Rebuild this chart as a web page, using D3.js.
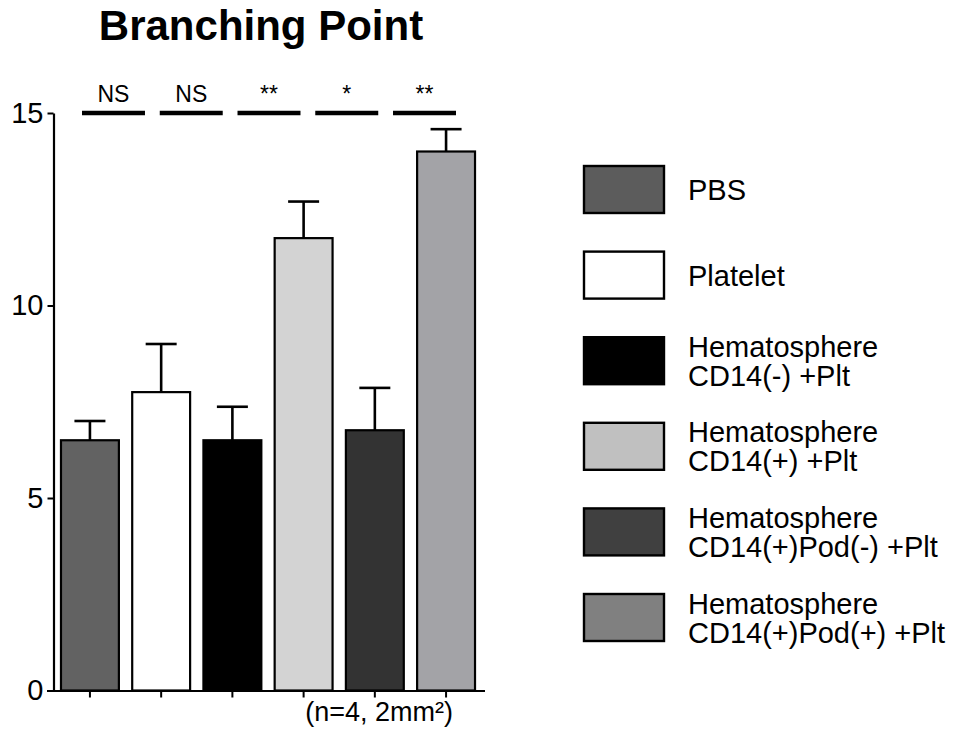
<!DOCTYPE html>
<html>
<head>
<meta charset="utf-8">
<script src="https://cdn.jsdelivr.net/npm/d3@7"></script>
<style>
  html, body { margin: 0; padding: 0; background: #fff; }
  svg { display: block; font-family: "Liberation Sans", Arial, Helvetica, sans-serif; }
</style>
</head>
<body>
<svg id="chart" width="958" height="730"></svg>
<script>
// Groups, means and upper error (mean + SEM)
const groups = ["PBS", "Platelet", "Hematosphere CD14(-) +Plt", "Hematosphere CD14(+) +Plt",
                "Hematosphere CD14(+)Pod(-) +Plt", "Hematosphere CD14(+)Pod(+) +Plt"];
const means = [6.5, 7.75, 6.5, 11.75, 6.76, 14.0];
const errors = [0.5, 1.25, 0.87, 0.95, 1.1, 0.58];
const legendLines = [["PBS"], ["Platelet"], ["Hematosphere", "CD14(-) +Plt"],
                     ["Hematosphere", "CD14(+) +Plt"], ["Hematosphere", "CD14(+)Pod(-) +Plt"],
                     ["Hematosphere", "CD14(+)Pod(+) +Plt"]];
const significance = ["NS", "NS", "**", "*", "**"];
const yTicks = [0, 5, 10, 15];

const barFill = ["#626262", "#ffffff", "#000000", "#d3d3d3", "#333333", "#a3a3a7"];
const legendFill = ["#5c5c5c", "#ffffff", "#000000", "#c0c0c0", "#404040", "#808080"];

const svg = d3.select("#chart");

const y = d3.scaleLinear().domain([0, 15]).range([690.5, 113]);
const x = d3.scaleBand().domain(groups).range([54, 482]).paddingInner(0.187).paddingOuter(0.098);

// Title
svg.append("text")
  .attr("x", 261).attr("y", 40)
  .attr("text-anchor", "middle")
  .attr("font-size", 42).attr("font-weight", "bold")
  .text("Branching Point");

// Y axis
const yAxis = svg.append("g").attr("transform", "translate(53.5,0)")
  .call(d3.axisLeft(y).tickValues(yTicks).tickSize(6).tickPadding(4).tickSizeOuter(0));
yAxis.select(".domain").attr("stroke", "#000").attr("stroke-width", 2.2);
yAxis.selectAll(".tick line").attr("stroke", "#000").attr("stroke-width", 2);
yAxis.selectAll(".tick text").attr("font-size", 29).attr("font-family", "Liberation Sans, Arial, sans-serif").attr("fill", "#000");
yAxis.selectAll(".tick").filter(d => d === 0).select("line").remove();

// Bars
svg.append("g").selectAll("rect")
  .data(groups)
  .join("rect")
  .attr("x", d => x(d))
  .attr("y", (d, i) => y(means[i]))
  .attr("width", x.bandwidth())
  .attr("height", (d, i) => y(0) - y(means[i]))
  .attr("fill", (d, i) => barFill[i])
  .attr("stroke", "#000")
  .attr("stroke-width", 2.2);

// Upper error bars
const err = svg.append("g").attr("stroke", "#000").attr("stroke-width", 2.6);
groups.forEach((g, i) => {
  const cx = x(g) + x.bandwidth() / 2;
  const top = y(means[i] + errors[i]);
  err.append("line").attr("x1", cx).attr("x2", cx).attr("y1", y(means[i])).attr("y2", top);
  err.append("line").attr("x1", cx - 15.5).attr("x2", cx + 15.5).attr("y1", top).attr("y2", top);
});

// X axis
const xAxis = svg.append("g").attr("transform", `translate(0,${y(0)})`)
  .call(d3.axisBottom(x).tickSize(7).tickSizeOuter(0).tickFormat(""));
xAxis.select(".domain").attr("d", "M47,0.5H485").attr("stroke", "#000").attr("stroke-width", 2.2);
xAxis.selectAll(".tick line").attr("stroke", "#000").attr("stroke-width", 2);

svg.append("text")
  .attr("x", 453).attr("y", 721)
  .attr("text-anchor", "end")
  .attr("font-size", 27)
  .text("(n=4, 2mm²)");

// Significance marks
const s = d3.scaleBand().domain(d3.range(significance.length)).range([82, 456]).paddingInner(0.19).paddingOuter(0);
const sig = svg.append("g");
sig.selectAll("line")
  .data(significance)
  .join("line")
  .attr("x1", (d, i) => s(i)).attr("x2", (d, i) => s(i) + s.bandwidth())
  .attr("y1", 113).attr("y2", 113)
  .attr("stroke", "#000").attr("stroke-width", 4.5);
sig.selectAll("text")
  .data(significance)
  .join("text")
  .attr("x", (d, i) => s(i) + s.bandwidth() / 2)
  .attr("y", 102)
  .attr("text-anchor", "middle")
  .attr("font-size", 23)
  .text(d => d);

// Legend
const legend = svg.append("g");
groups.forEach((g, i) => {
  const top = 166 + i * 85.6;
  legend.append("rect")
    .attr("x", 584).attr("y", top).attr("width", 80).attr("height", 47)
    .attr("fill", legendFill[i]).attr("stroke", "#000").attr("stroke-width", 2.4);
  const lines = legendLines[i];
  const mid = top + 23.5;
  const lh = 29;
  const t = legend.append("text").attr("x", 688).attr("font-size", 29);
  lines.forEach((ln, k) => {
    const base = mid + 10.5 + (k - (lines.length - 1) / 2) * lh;
    t.append("tspan").attr("x", 688).attr("y", base).text(ln);
  });
});
</script>
</body>
</html>
